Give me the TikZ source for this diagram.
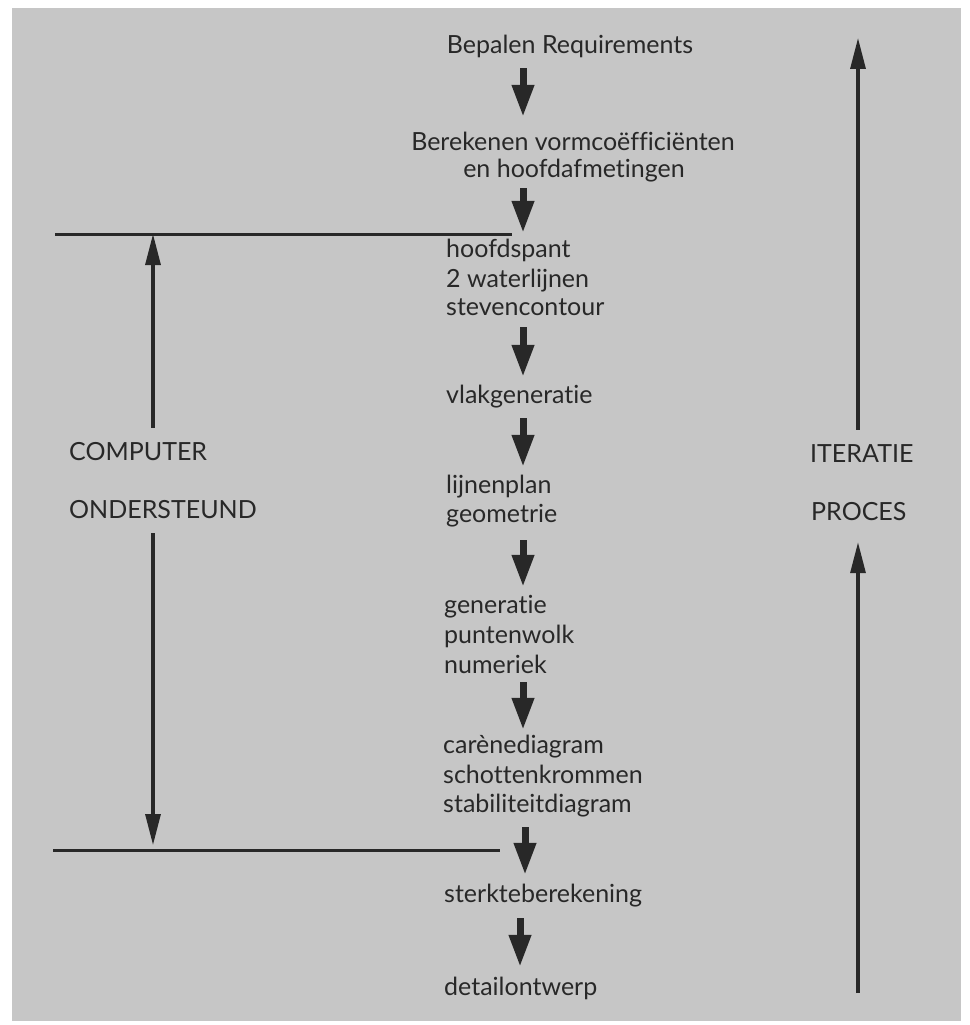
\documentclass[tikz,border=0pt]{standalone}
\usepackage{fontspec}
\setmainfont{Lato}[Ligatures=NoCommon]
\usetikzlibrary{arrows.meta}
\definecolor{bgc}{RGB}{198,198,198}
\definecolor{ink}{RGB}{40,40,40}
\begin{document}
\begin{tikzpicture}[x=1pt,y=-1pt,
  txt/.style={inner sep=0pt, text height=18pt, text depth=5pt, anchor=base west, text=ink, font=\fontsize{25}{30}\selectfont},
  ctxt/.style={txt, anchor=base},
  bigarrow/.style={draw=ink, line width=7pt, -{Triangle[length=32pt,width=21pt]}},
  sidearrow/.style={draw=ink, line width=3.2pt, -{Triangle[length=31pt,width=15pt]}},
  thinline/.style={draw=ink, line width=3pt}]
\useasboundingbox (0,0) rectangle (969,1025);
\fill[bgc] (12,8) rectangle (961,1021);
% coordinates
\coordinate (ax) at (523,0);
\coordinate (lx) at (153,0);
\coordinate (rx) at (858,0);
\coordinate (tl1) at (55,234);
\coordinate (tl2) at (512,234);
\coordinate (bl1) at (53,850);
\coordinate (bl2) at (500,850);
\coordinate (rtop) at (858,38);
\coordinate (rbot) at (858,993);
% middle column
\node[ctxt] (req) at (570,53) {Bepalen Requirements};
\node[ctxt] (ber1) at (573,150) {Berekenen vormcoëfficiënten};
\node[ctxt] (ber2) at (574,177) {en hoofdafmetingen};
\node[txt] (hs1) at (446,257) {hoofdspant};
\node[txt] (hs2) at (446,287) {2 waterlijnen};
\node[txt] (hs3) at (446,315) {stevencontour};
\node[txt] (vg) at (446,403) {vlakgeneratie};
\node[txt] (lp1) at (446,493) {lijnenplan};
\node[txt] (lp2) at (446,522) {geometrie};
\node[txt] (gp1) at (444,613) {generatie};
\node[txt] (gp2) at (444,643) {puntenwolk};
\node[txt] (gp3) at (444,673) {numeriek};
\node[txt] (cd1) at (443,753) {carènediagram};
\node[txt] (cd2) at (443,783) {schottenkrommen};
\node[txt] (cd3) at (443,812) {stabiliteitdiagram};
\node[txt] (sb) at (444,902) {sterkteberekening};
\node[txt] (do) at (444,995) {detailontwerp};
% side labels
\node[txt] (comp) at (69,460) {COMPUTER};
\node[txt] (onder) at (69,518) {ONDERSTEUND};
\node[txt] (iter) at (810,462) {ITERATIE};
\node[txt] (proc) at (811,520) {PROCES};
% middle arrows
\draw[bigarrow, shorten <=10pt, shorten >=15pt] (req.south -| ax) -- (ber1.north -| ax);
\draw[bigarrow, shorten <=6pt, shorten >=6pt] (ber2.south -| ax) -- (hs1.north -| ax);
\draw[bigarrow, shorten <=7pt, shorten >=8pt] (hs3.south -| ax) -- (vg.north -| ax);
\draw[bigarrow, shorten <=10pt, shorten >=8pt] (vg.south -| ax) -- (lp1.north -| ax);
\draw[bigarrow, shorten <=13pt, shorten >=8pt] (lp2.south -| ax) -- (gp1.north -| ax);
\draw[bigarrow, shorten <=4pt, shorten >=5pt] (gp3.south -| ax) -- (cd1.north -| ax);
\draw[bigarrow, shorten <=10pt, shorten >=9pt] ([xshift=2pt]cd3.south -| ax) -- ([xshift=2pt]sb.north -| ax);
\draw[bigarrow, shorten <=11pt, shorten >=10pt] ([xshift=-3pt]sb.south -| ax) -- ([xshift=-3pt]do.north -| ax);
% horizontal lines
\draw[thinline] (tl1) -- (tl2);
\draw[thinline] (bl1) -- (bl2);
% left arrows
\draw[sidearrow, shorten <=14pt] (comp.north -| lx) -- (lx |- tl1);
\draw[sidearrow, shorten <=10pt, shorten >=5pt] (onder.south -| lx) -- (lx |- bl1);
% right arrows
\draw[sidearrow, shorten <=14pt] (iter.north -| rx) -- (rtop);
\draw[sidearrow, shorten >=17pt] (rbot) -- (proc.south -| rx);
\end{tikzpicture}
\end{document}
